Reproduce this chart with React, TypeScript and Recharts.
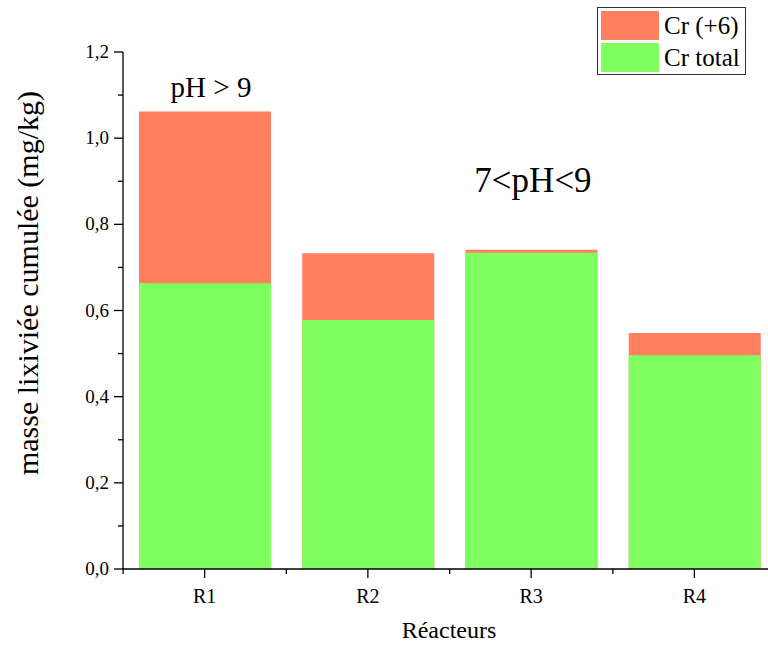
import React from "react";
import { BarChart, Bar, XAxis, YAxis, Legend } from "recharts";

const reactors = ["R1", "R2", "R3", "R4"];
const crVI = [1.062, 0.733, 0.741, 0.548];
const crTotal = [0.663, 0.578, 0.734, 0.496];
const yTicks = [0, 0.1, 0.2, 0.3, 0.4, 0.5, 0.6, 0.7, 0.8, 0.9, 1.0, 1.1, 1.2];

const data = reactors.map((name, i) => ({
  name,
  "Cr (+6)": crVI[i],
  "Cr total": crTotal[i],
}));

const ORANGE = "#ff7f5f";
const GREEN = "#80ff60";
const FONT = "Liberation Serif";
const AXIS_X = 123;
const AXIS_Y = 569;

const YTick = (props: any) => {
  const { y, payload } = props;
  const v = payload.value;
  const major = Math.round(v * 10) % 2 === 0;
  return (
    <g>
      <line x1={AXIS_X - (major ? 9 : 5)} x2={AXIS_X} y1={y} y2={y} stroke="#000" strokeWidth={1.3} />
      {major && (
        <text x={AXIS_X - 14} y={y} dy={6} textAnchor="end" fontSize={19} fontFamily={FONT} fill="#000">
          {v.toFixed(1).replace(".", ",")}
        </text>
      )}
    </g>
  );
};

const XTick = (props: any) => {
  const { x, payload } = props;
  const half = 163 / 2;
  return (
    <g>
      <line x1={x} x2={x} y1={AXIS_Y} y2={AXIS_Y + 9} stroke="#000" strokeWidth={1.3} />
      <line x1={x - half} x2={x - half} y1={AXIS_Y} y2={AXIS_Y + 5} stroke="#000" strokeWidth={1.3} />
      <text x={x} y={AXIS_Y + 34} textAnchor="middle" fontSize={20} fontFamily={FONT} fill="#000">
        {payload.value}
      </text>
    </g>
  );
};

const LegendBox = () => (
  <div
    style={{
      width: 149,
      height: 68,
      border: "1.5px solid #333",
      background: "#fff",
      fontFamily: FONT,
      fontSize: 25,
      color: "#000",
      boxSizing: "border-box",
      padding: "2px 3px",
    }}
  >
    {[
      { c: ORANGE, t: "Cr (+6)" },
      { c: GREEN, t: "Cr total" },
    ].map((it) => (
      <div key={it.t} style={{ display: "flex", alignItems: "center", height: 30, marginBottom: 2 }}>
        <div style={{ width: 58, height: 29, background: it.c, marginRight: 5 }} />
        <span style={{ lineHeight: "29px" }}>{it.t}</span>
      </div>
    ))}
  </div>
);

export default function App() {
  return (
    <div
      style={{
        position: "fixed",
        left: 0,
        top: 0,
        width: 768,
        height: 648,
        overflow: "hidden",
        background: "#fff",
      }}
    >
      <BarChart
        width={784}
        height={648}
        data={data}
        margin={{ top: 52, right: 8, left: 63, bottom: 49 }}
        barGap={-132}
        barSize={132}
      >
        <XAxis
          dataKey="name"
          height={30}
          tickLine={false}
          axisLine={{ stroke: "#000", strokeWidth: 1.3 }}
          tick={<XTick />}
          interval={0}
        />
        <YAxis
          width={60}
          domain={[0, 1.2]}
          ticks={yTicks}
          interval={0}
          tickLine={false}
          axisLine={{ stroke: "#000", strokeWidth: 1.3 }}
          tick={<YTick />}
          label={() => (
            <text
              x={38}
              y={283}
              transform="rotate(-90 38 283)"
              textAnchor="middle"
              fontSize={30}
              fontFamily={FONT}
              fill="#000"
            >
              masse lixiviée cumulée (mg/kg)
            </text>
          )}
        />
        <Legend
          layout="vertical"
          align="center"
          verticalAlign="middle"
          content={() => <LegendBox />}
          wrapperStyle={{ position: "absolute", top: 7, left: 597, width: 149 }}
        />
        <Bar dataKey="Cr (+6)" fill={ORANGE} isAnimationActive={false} />
        <Bar dataKey="Cr total" fill={GREEN} isAnimationActive={false} />
      </BarChart>
      <div
        style={{
          position: "absolute",
          left: 211,
          top: 71,
          transform: "translateX(-50%)",
          fontFamily: FONT,
          fontSize: 29,
          whiteSpace: "nowrap",
        }}
      >
        pH &gt; 9
      </div>
      <div
        style={{
          position: "absolute",
          left: 533,
          top: 161,
          transform: "translateX(-50%)",
          fontFamily: FONT,
          fontSize: 35,
          whiteSpace: "nowrap",
        }}
      >
        7&lt;pH&lt;9
      </div>
      <div
        style={{
          position: "absolute",
          left: 449,
          top: 617,
          transform: "translateX(-50%)",
          fontFamily: FONT,
          fontSize: 24,
          whiteSpace: "nowrap",
        }}
      >
        Réacteurs
      </div>
    </div>
  );
}
